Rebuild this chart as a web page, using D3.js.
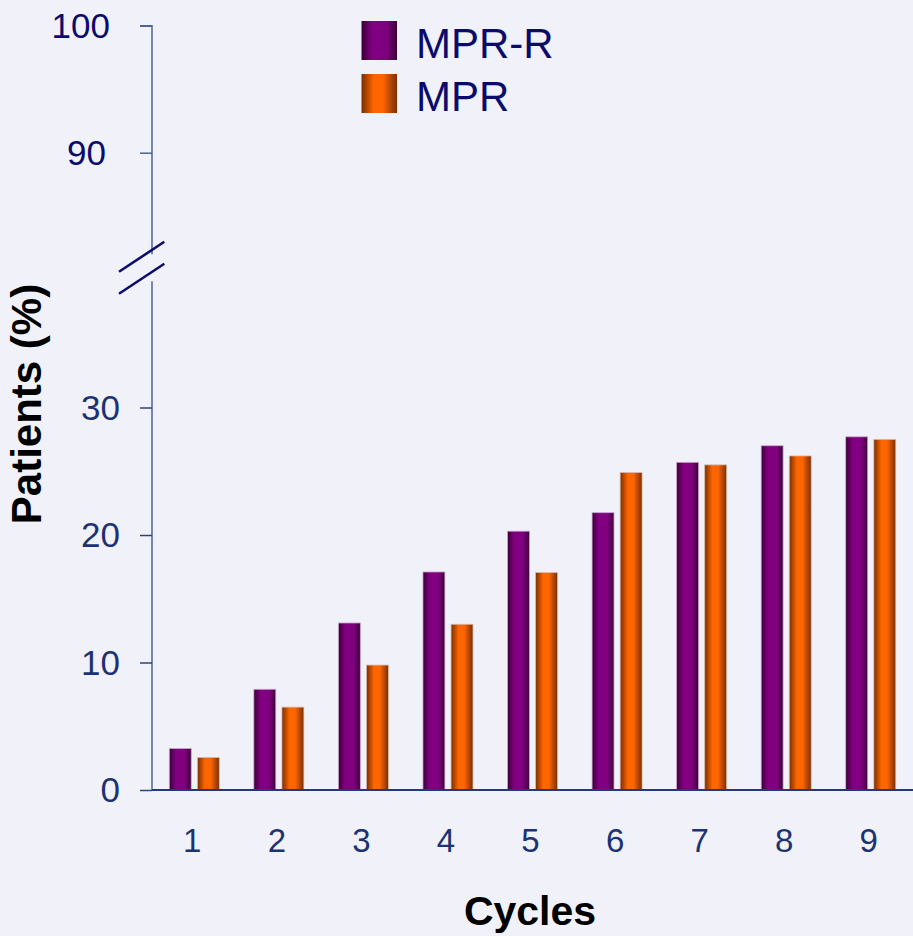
<!DOCTYPE html>
<html>
<head>
<meta charset="utf-8">
<script src="https://cdn.jsdelivr.net/npm/d3@7/dist/d3.min.js"></script>
<style>
  html, body { margin: 0; padding: 0; background: #f1f2f9; }
  svg { display: block; font-family: "Liberation Sans", Arial, sans-serif; }
</style>
</head>
<body>
<svg id="chart" width="913" height="936"></svg>
<script>
// Cumulative share of patients by treatment cycle
const cycles = ["1", "2", "3", "4", "5", "6", "7", "8", "9"];
const seriesNames = ["MPR-R", "MPR"];
const mprR = [3.25, 7.9, 13.1, 17.1, 20.3, 21.75, 25.7, 27.0, 27.7];
const mpr = [2.55, 6.5, 9.8, 13.0, 17.05, 24.9, 25.5, 26.2, 27.5];
const lowerTicks = [0, 10, 20, 30];
const upperTicks = [90, 100];

const svg = d3.select("#chart");
const axisX = 152;

// Broken y axis: a lower segment for the data and an upper segment up to 100%
const yLow = d3.scaleLinear().domain([0, 40]).range([790, 280]);
const yHigh = d3.scaleLinear().domain([82, 100]).range([254.3, 25.7]);

const x = d3.scaleBand().domain(cycles).range([axisX, 913]).padding(0);
const xInner = d3.scaleBand().domain(seriesNames).range([17.3, 67.3]).paddingInner(0.22);

const colors = {
  "MPR-R": { edge: "#3a0036", mid: "#800080", stroke: "#c9a6c9" },
  "MPR": { edge: "#7a2e00", mid: "#ff6600", stroke: "#d9b8a8" }
};

// Horizontal shading gradients for the bars and legend swatches
const defs = svg.append("defs");
seriesNames.forEach((name, i) => {
  const g = defs.append("linearGradient")
    .attr("id", "grad" + i)
    .attr("x1", "0%").attr("x2", "100%").attr("y1", "0%").attr("y2", "0%");
  const c = colors[name];
  const stops = i === 0
    ? [[0, c.edge], [0.3, c.mid], [0.7, c.mid], [1, c.edge]]
    : [[0, c.edge], [0.35, c.mid], [0.6, c.mid], [1, c.edge]];
  stops.forEach(([o, col]) => g.append("stop").attr("offset", o).attr("stop-color", col));
});

// Bars
const rows = cycles.map((c, i) => ({ cycle: c, values: [mprR[i], mpr[i]] }));
const groups = svg.append("g").selectAll("g")
  .data(rows).join("g")
  .attr("transform", d => `translate(${x(d.cycle)},0)`);

groups.selectAll("rect")
  .data(d => d.values.map((v, i) => ({ name: seriesNames[i], value: v, idx: i })))
  .join("rect")
  .attr("x", d => xInner(d.name))
  .attr("width", xInner.bandwidth())
  .attr("y", d => yLow(d.value))
  .attr("height", d => yLow(0) - yLow(d.value))
  .attr("fill", d => `url(#grad${d.idx})`)
  .attr("stroke", d => colors[d.name].stroke)
  .attr("stroke-width", 0.8);

// Lower y axis
const lowAxis = svg.append("g")
  .attr("transform", `translate(${axisX},0)`)
  .call(d3.axisLeft(yLow).tickValues(lowerTicks).tickSize(12).tickPadding(20).tickFormat(d3.format("d")));
lowAxis.select(".domain").attr("d", `M0,${yLow(39.9)}V${yLow(0)}`).attr("stroke", "#4b6494").attr("stroke-width", 1.5);
lowAxis.selectAll(".tick line").attr("stroke", "#2d4478").attr("stroke-width", 1.5);
lowAxis.selectAll(".tick text")
  .attr("fill", "#1c3272").attr("font-size", 35).attr("font-family", "Liberation Sans, Arial, sans-serif")
  .attr("dy", "0.34em");

// Upper y axis
const highAxis = svg.append("g")
  .attr("transform", `translate(${axisX},0)`)
  .call(d3.axisLeft(yHigh).tickValues(upperTicks).tickSize(12).tickPadding(30).tickFormat(d3.format("d")));
highAxis.select(".domain").attr("d", `M-12,${yHigh(100)}H0V${yHigh(82)}`).attr("stroke", "#4b6494").attr("stroke-width", 1.5);
highAxis.selectAll(".tick line").attr("stroke", "#4b6494").attr("stroke-width", 1.5);
highAxis.selectAll(".tick text")
  .attr("fill", "#0b0b6c").attr("font-size", 35).attr("font-family", "Liberation Sans, Arial, sans-serif")
  .attr("dy", "0.34em");
highAxis.selectAll(".tick").filter(d => d === 90).select("text").attr("dx", -4);

// Axis break marks
const breakMid = (yHigh(82) + yLow(39.9)) / 2;
[-11, 11].forEach(off => {
  svg.append("line")
    .attr("x1", axisX - 33).attr("y1", breakMid + off + 15)
    .attr("x2", axisX + 12.3).attr("y2", breakMid + off - 15)
    .attr("stroke", "#0d0d6e").attr("stroke-width", 2.6);
});

// X baseline and cycle labels
svg.append("line")
  .attr("x1", axisX).attr("x2", 913)
  .attr("y1", yLow(0)).attr("y2", yLow(0))
  .attr("stroke", "#23397a").attr("stroke-width", 2);

svg.append("g").selectAll("text")
  .data(cycles).join("text")
  .attr("x", d => x(d) + x.bandwidth() / 2 - 2)
  .attr("y", 852)
  .attr("text-anchor", "middle")
  .attr("font-size", 33)
  .attr("fill", "#1c3272")
  .text(d => d);

// Axis titles
svg.append("text")
  .attr("x", 530).attr("y", 925)
  .attr("text-anchor", "middle")
  .attr("font-size", 41).attr("font-weight", "bold").attr("fill", "#000")
  .text("Cycles");

svg.append("text")
  .attr("transform", "translate(41,404) rotate(-90)")
  .attr("text-anchor", "middle")
  .attr("font-size", 42).attr("font-weight", "bold").attr("fill", "#000")
  .text("Patients (%)");

// Legend
const legend = svg.append("g");
const legendRows = seriesNames.map((n, i) => ({ name: n, idx: i }));
legend.selectAll("rect")
  .data(legendRows).join("rect")
  .attr("x", 361.5).attr("y", d => 21 + d.idx * 53)
  .attr("width", 35.5).attr("height", 39)
  .attr("fill", d => `url(#grad${d.idx})`);
legend.selectAll("text")
  .data(legendRows).join("text")
  .attr("x", 416).attr("y", d => 57.5 + d.idx * 53)
  .attr("font-size", 42).attr("fill", "#0b0b6c")
  .text(d => d.name);
</script>
</body>
</html>
